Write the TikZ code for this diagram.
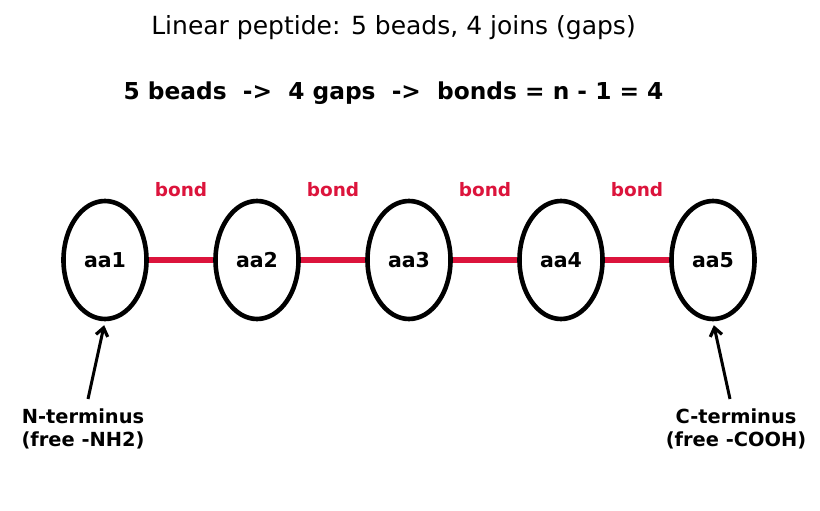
\documentclass[tikz,border=0pt]{standalone}
\usepackage{fontspec}
\setmainfont{DejaVu Sans}
\usetikzlibrary{arrows.meta,shapes.geometric,calc}
\definecolor{bondred}{HTML}{DC143C}
\begin{document}
\begin{tikzpicture}[x=1pt,y=-1pt,
  bead/.style={draw=black,line width=4.6pt,ellipse,minimum width=83pt,minimum height=118pt,inner sep=0pt,font=\fontsize{20.5}{24}\selectfont\bfseries},
  bondline/.style={draw=bondred,line width=5.5pt},
  bondlab/.style={text=bondred,font=\fontsize{18.5}{22}\selectfont\bfseries,inner sep=0pt},
  termlab/.style={align=center,font=\fontsize{19.4}{23}\selectfont\bfseries,inner sep=0pt},
  termarrow/.style={line width=3pt,-{Straight Barb[length=8pt,width=12pt,line width=3.2pt]},shorten >=4pt}
]
\useasboundingbox (0,0) rectangle (820,511);
\node[inner sep=0pt,font=\fontsize{25}{30}\selectfont] (title) at (393.5,28) {Linear peptide: 5 beads, 4 joins (gaps)};
\node[inner sep=0pt,font=\fontsize{23.3}{28}\selectfont\bfseries] (sub) at (393.5,93) {5 beads\ \ ->\ \ 4 gaps\ \ ->\ \ bonds = n - 1 = 4};
\foreach \i/\x in {1/105,2/257,3/409,4/561,5/713}{
  \node[bead] (a\i) at (\x,260) {aa\i};
}
\foreach \i/\j in {1/2,2/3,3/4,4/5}{
  \draw[bondline] (a\i.east) -- (a\j.west);
  \node[bondlab] (b\i) at ($(a\i.east)!0.5!(a\j.west)+(0,-70)$) {bond};
}
\node[termlab] (nt) at (83,429) {N-terminus\\(free -NH2)};
\node[termlab] (ct) at (736,429) {C-terminus\\(free -COOH)};
\coordinate (ns) at (88,399);
\coordinate (cs) at (730,399);
\draw[termarrow] (ns) -- (a1.south);
\draw[termarrow] (cs) -- (a5.south);
\end{tikzpicture}
\end{document}
